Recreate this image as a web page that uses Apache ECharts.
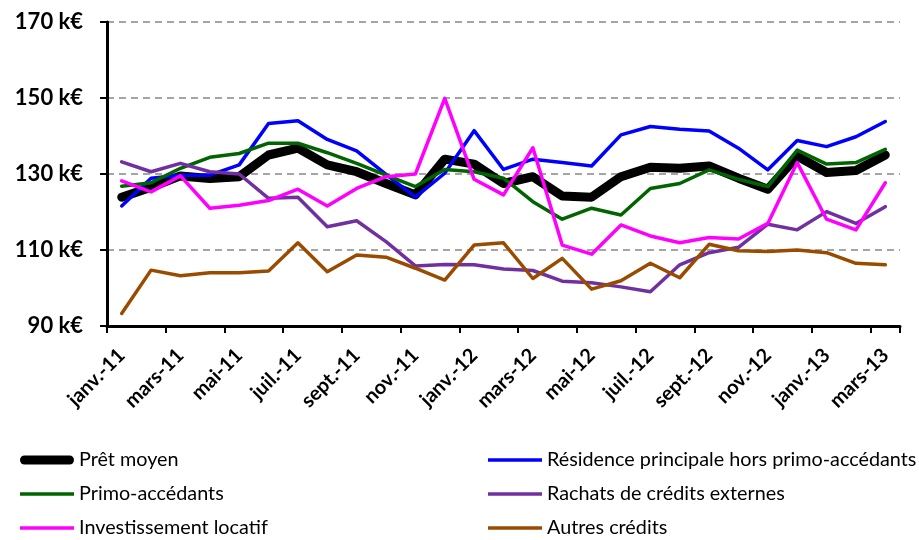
<!DOCTYPE html>
<html><head><meta charset="utf-8">
<script src="https://cdn.jsdelivr.net/npm/echarts@6/dist/echarts.min.js"></script>
<style>html,body{margin:0;padding:0;background:#fff}#c{width:919px;height:540px}</style>
</head><body><div id="c"></div>
<script>
const categories = ['janv.-11','févr.-11','mars-11','avr.-11','mai-11','juin-11','juil.-11','août-11','sept.-11','oct.-11','nov.-11','déc.-11',
  'janv.-12','févr.-12','mars-12','avr.-12','mai-12','juin-12','juil.-12','août-12','sept.-12','oct.-12','nov.-12','déc.-12',
  'janv.-13','févr.-13','mars-13'];
const pretMoyen = [123.9,126.5,129.5,128.8,129.3,135.0,136.8,132.4,130.6,127.5,124.5,133.9,132.6,127.5,129.3,124.2,123.9,129.3,131.8,131.5,132.1,128.9,126.0,134.7,130.4,130.9,135.0];
const residence = [121.6,128.9,129.7,129.7,132.4,143.3,144.0,139.1,136.1,129.9,123.9,130.2,141.4,131.2,133.9,133.0,132.1,140.3,142.5,141.8,141.3,136.8,131.1,138.8,137.2,139.8,143.8];
const primo = [126.8,127.7,131.5,134.4,135.4,138.1,138.1,135.6,132.8,129.7,126.7,131.2,130.6,128.9,122.7,118.1,121.0,119.2,126.2,127.5,131.1,128.6,126.7,136.3,132.6,133.0,136.5];
const rachats = [133.2,130.6,132.8,130.6,130.0,123.6,123.9,116.1,117.7,112.2,105.8,106.2,106.1,105.0,104.6,101.8,101.4,100.3,99.0,106.1,109.3,110.7,116.8,115.3,120.1,117.0,121.4];
const investissement = [128.2,125.3,129.5,121.0,121.8,123.0,126.0,121.6,126.2,129.3,130.0,149.9,128.6,124.5,136.9,111.3,108.9,116.6,113.7,111.9,113.3,112.9,117.0,133.0,118.1,115.3,127.7];
const autres = [93.3,104.7,103.2,104.0,104.0,104.5,111.9,104.3,108.7,108.1,105.2,102.1,111.3,111.9,102.5,107.8,99.7,101.9,106.5,102.7,111.5,109.8,109.6,110.0,109.3,106.5,106.1];
const yTicks = [90,110,130,150,170];

const FONT = 'Lato, "Liberation Sans", sans-serif';
const names = ['Prêt moyen','Résidence principale hors primo-accédants','Primo-accédants','Rachats de crédits externes','Investissement locatif','Autres crédits'];
const colors = ['#000000','#0000FF','#006400','#7030A0','#FF00FF','#994C00'];
const datas = [pretMoyen,residence,primo,rachats,investissement,autres];
const widths = [9,3.5,3.5,3.5,3.5,3.5];

const thinIcon = 'path://M0,0 M54,20 M0,8.3 L54,8.3 L54,11.7 L0,11.7 Z';
const thickIcon = 'path://M0,0 M54,20 M4.5,5.5 L49.5,5.5 A4.5,4.5 0 0 1 49.5,14.5 L4.5,14.5 A4.5,4.5 0 0 1 4.5,5.5 Z';
const legItem = i => ({name:names[i], icon: i===0 ? thickIcon : thinIcon});
const legendBase = {orient:'vertical',top:450,itemWidth:54,itemHeight:20,itemGap:14,padding:0,
  textStyle:{fontFamily:FONT,fontSize:19.8,color:'#000'}};

const chart = echarts.init(document.getElementById('c'));
chart.setOption({
  animation:false,
  backgroundColor:'#fff',
  grid:{left:107,right:19,top:22,bottom:214},
  xAxis:{type:'category',data:categories,boundaryGap:true,
    axisLine:{lineStyle:{color:'#000',width:3}},
    axisTick:{show:true,interval:1,length:7,inside:false,lineStyle:{color:'#000',width:2}},
    axisLabel:{interval:1,rotate:45,margin:26,color:'#000',fontFamily:FONT,fontWeight:'bold',fontSize:20}
  },
  yAxis:{type:'value',min:90,max:170,interval:20,
    axisLine:{show:true,lineStyle:{color:'#000',width:3}},
    axisTick:{show:true,length:7,lineStyle:{color:'#000',width:2}},
    splitLine:{show:true,lineStyle:{color:'#888',type:[7,5],width:1.5}},
    axisLabel:{margin:24,color:'#000',fontFamily:FONT,fontWeight:'bold',fontSize:22,
      formatter:v=>yTicks.includes(v)?v+' k€':''}
  },
  legend:[
    Object.assign({left:20,data:[legItem(0),legItem(2),legItem(4)]},legendBase),
    Object.assign({left:488,data:[legItem(1),legItem(3),legItem(5)]},legendBase)
  ],
  series:datas.map((d,i)=>({name:names[i],type:'line',data:d,symbol:'none',showSymbol:false,
    lineStyle:{color:colors[i],width:widths[i],cap:'round',join:'round'},itemStyle:{color:colors[i]}}))
});
</script></body></html>
